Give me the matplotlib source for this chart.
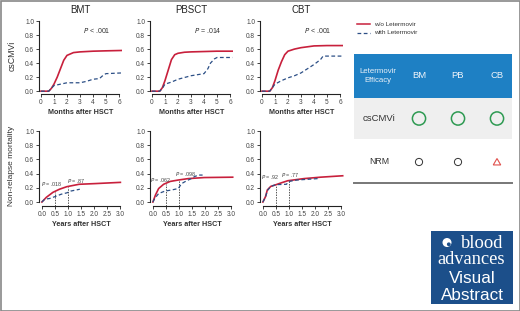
import matplotlib
matplotlib.use("Agg")
import numpy as np
import matplotlib.pyplot as plt
from matplotlib import font_manager
from matplotlib.patches import Rectangle, Circle, RegularPolygon

names = {f.name for f in font_manager.fontManager.ttflist}
SANS = "Liberation Sans" if "Liberation Sans" in names else "DejaVu Sans"
NARROW = "Liberation Sans Narrow" if "Liberation Sans Narrow" in names else SANS
SERIF = "Liberation Serif" if "Liberation Serif" in names else "DejaVu Serif"
plt.rcParams["font.family"] = [SANS, "DejaVu Sans"]

# ---------------- data ----------------
panels = ["BMT", "PBSCT", "CBT"]

# csCMVi cumulative incidence (months)
cmv_wo_x = {
    "BMT":   [0, 0.6, 0.8, 1.0, 1.25, 1.5, 1.75, 2.0, 2.5, 3.0, 4.0, 5.0, 6.2],
    "PBSCT": [0, 0.6, 0.8, 1.0, 1.25, 1.5, 1.75, 2.0, 2.5, 3.0, 4.0, 5.0, 6.2],
    "CBT":   [0, 0.6, 0.8, 1.0, 1.25, 1.5, 1.75, 2.0, 2.5, 3.0, 4.0, 5.0, 6.2],
}
cmv_wo_y = {
    "BMT":   [0, 0.0, 0.04, 0.10, 0.20, 0.32, 0.44, 0.51, 0.55, 0.56, 0.57, 0.575, 0.58],
    "PBSCT": [0, 0.0, 0.05, 0.15, 0.30, 0.45, 0.52, 0.54, 0.555, 0.56, 0.565, 0.57, 0.57],
    "CBT":   [0, 0.0, 0.05, 0.15, 0.30, 0.42, 0.52, 0.57, 0.60, 0.62, 0.645, 0.65, 0.65],
}
cmv_w_x = {
    "BMT":   [0, 0.6, 0.8, 1.0, 1.5, 2.0, 3.0, 3.5, 4.0, 4.5, 4.8, 5.0, 6.2],
    "PBSCT": [0, 0.6, 0.8, 1.0, 1.5, 2.0, 3.0, 4.0, 4.3, 4.5, 4.8, 5.0, 6.2],
    "CBT":   [0, 0.6, 0.8, 1.0, 1.5, 2.0, 2.5, 3.0, 3.5, 4.0, 4.5, 4.7, 6.2],
}
cmv_w_y = {
    "BMT":   [0, 0.0, 0.04, 0.08, 0.10, 0.12, 0.12, 0.14, 0.17, 0.18, 0.23, 0.25, 0.26],
    "PBSCT": [0, 0.0, 0.04, 0.10, 0.13, 0.17, 0.22, 0.25, 0.32, 0.40, 0.46, 0.48, 0.48],
    "CBT":   [0, 0.0, 0.05, 0.10, 0.15, 0.19, 0.22, 0.26, 0.32, 0.38, 0.45, 0.50, 0.50],
}
cmv_p = {"BMT": "< .001", "PBSCT": "= .014", "CBT": "< .001"}

# Non-relapse mortality (years)
nrm_wo_x = {
    "BMT":   [0, 0.17, 0.42, 0.67, 0.95, 1.42, 2.05, 3.0],
    "PBSCT": [0, 0.1, 0.22, 0.41, 0.66, 0.97, 1.35, 1.97, 3.05],
    "CBT":   [0, 0.1, 0.17, 0.3, 0.47, 0.7, 0.95, 1.57, 2.2, 3.05],
}
nrm_wo_y = {
    "BMT":   [0, 0.066, 0.136, 0.18, 0.216, 0.25, 0.26, 0.277],
    "PBSCT": [0, 0.10, 0.19, 0.25, 0.29, 0.31, 0.33, 0.345, 0.35],
    "CBT":   [0, 0.075, 0.17, 0.22, 0.24, 0.27, 0.30, 0.33, 0.35, 0.37],
}
nrm_w_x = {
    "BMT":   [0, 0.11, 0.3, 0.49, 0.74, 0.96, 1.11, 1.45],
    "PBSCT": [0, 0.07, 0.22, 0.47, 0.72, 0.97, 1.1, 1.29, 1.47, 1.6, 1.75, 1.9],
    "CBT":   [0, 0.1, 0.17, 0.3, 0.5, 0.9, 1.0, 1.3, 1.7, 2.1],
}
nrm_w_y = {
    "BMT":   [0, 0.04, 0.05, 0.075, 0.11, 0.13, 0.155, 0.18],
    "PBSCT": [0, 0.05, 0.12, 0.155, 0.17, 0.19, 0.26, 0.30, 0.33, 0.36, 0.38, 0.38],
    "CBT":   [0, 0.07, 0.16, 0.22, 0.245, 0.25, 0.29, 0.31, 0.32, 0.33],
}
nrm_mark_x = [0.5, 1.0]
nrm_mark_y = {"BMT": [0.14, 0.215], "PBSCT": [0.26, 0.31], "CBT": [0.24, 0.30]}
nrm_p = {"BMT": ["= .018", "= .87"], "PBSCT": ["= .062", "= .098"], "CBT": ["= .92", "= .77"]}
nrm_p_pos = {
    "BMT":   [(-0.02, 0.25), (0.95, 0.30)],
    "PBSCT": [(-0.10, 0.31), (0.85, 0.40)],
    "CBT":   [(-0.08, 0.35), (0.70, 0.385)],
}

yticks = [0.0, 0.2, 0.4, 0.6, 0.8, 1.0]
cmv_xticks = [0, 1, 2, 3, 4, 5, 6]
nrm_xticks = [0.0, 0.5, 1.0, 1.5, 2.0, 2.5, 3.0]

table_cols = ["BM", "PB", "CB"]
table_rows = ["csCMVi", "NRM"]

RED = "#c8203c"
BLUE = "#2c4f86"

W, H = 520, 311
fig = plt.figure(figsize=(W / 100, H / 100), dpi=100)


def px_axes(x0, y0, x1, y1):
    return fig.add_axes([x0 / W, 1 - y1 / H, (x1 - x0) / W, (y1 - y0) / H])


def style(ax, xticks, xlim, ylim, fmt):
    ax.set_xlim(*xlim)
    ax.set_ylim(*ylim)
    for s in ["top", "right"]:
        ax.spines[s].set_visible(False)
    ax.spines["left"].set_bounds(0, 1)
    ax.spines["bottom"].set_bounds(xticks[0], xticks[-1])
    for s in ["left", "bottom"]:
        ax.spines[s].set_linewidth(0.8)
        ax.spines[s].set_color("#222222")
    ax.set_yticks(yticks)
    ax.set_yticklabels([f"{v:.1f}" for v in yticks])
    ax.set_xticks(xticks)
    ax.set_xticklabels([fmt(v) for v in xticks])
    ax.tick_params(length=2, width=0.6, pad=1.5, labelsize=4.7, colors="#222222",
                   labelcolor="#444444")
    ax.patch.set_alpha(0)


lefts = [39, 150, 260]
for i, p in enumerate(panels):
    L = lefts[i]
    # top: csCMVi
    ax = px_axes(L, 19.6, L + 82.6, 94)
    ax.plot(cmv_wo_x[p], cmv_wo_y[p], color=RED, lw=1.2)
    ax.plot(cmv_w_x[p], cmv_w_y[p], color=BLUE, lw=0.9, ls=(0, (3, 2)))
    style(ax, cmv_xticks, (-0.15, 6.2), (-0.04, 1.02), lambda v: f"{v:d}")
    ax.set_xlabel("Months after HSCT", fontsize=5.2, family=NARROW, labelpad=2,
                  color="#333333", fontweight="bold")
    ax.set_title(p, fontsize=7, pad=4.5, color="#222222")
    ax.text(4.3, 0.86, "$P$ " + cmv_p[p], fontsize=5, ha="center", va="center",
            color="#333333")

    # bottom: NRM
    ax2 = px_axes(L, 130, L + 84, 206)
    style(ax2, nrm_xticks, (-0.11, 3.1), (-0.056, 1.015), lambda v: f"{v:.1f}")
    for xm, ym in zip(nrm_mark_x, nrm_mark_y[p]):
        ax2.plot([xm, xm], [-0.056, ym], color="#555555", lw=0.7, ls=(0, (1.5, 1.2)))
    ax2.plot(nrm_wo_x[p], nrm_wo_y[p], color=RED, lw=1.2)
    ax2.plot(nrm_w_x[p], nrm_w_y[p], color=BLUE, lw=0.9, ls=(0, (3, 2)))
    for (tx, ty), lab in zip(nrm_p_pos[p], nrm_p[p]):
        ax2.text(tx, ty, "$P$ " + lab, fontsize=3.9, ha="left", va="center",
                 color="#444444")
    ax2.set_xlabel("Years after HSCT", fontsize=5.2, family=NARROW, labelpad=2,
                   color="#333333", fontweight="bold")

fig.text(12 / W, 1 - 56 / H, "csCMVi", rotation=90, fontsize=6.3, ha="center",
         va="center", color="#333333")
fig.text(12 / W, 1 - 166 / H, "Non-relapse mortality", rotation=90, fontsize=6.0,
         ha="center", va="center", color="#333333")

# ---------------- overlay (legend, table, logo, frame) ----------------
ov = fig.add_axes([0, 0, 1, 1], zorder=-1)
ov.set_xlim(0, W)
ov.set_ylim(H, 0)
ov.axis("off")

ov.plot([357, 370], [24, 24], color=RED, lw=1.1)
ov.plot([357, 370], [33, 33], color=BLUE, lw=0.9, ls=(0, (3, 2)))
ov.text(374, 24, "w/o Letermovir", fontsize=4.6, va="center", color="#333333")
ov.text(374, 33, "with Letermovir", fontsize=4.6, va="center", color="#333333")

ov.add_patch(Rectangle((354, 54), 158, 44, color="#1e80c4", lw=0))
ov.add_patch(Rectangle((354, 98), 158, 41, color="#efefef", lw=0))
ov.plot([354, 512], [182.5, 182.5], color="#777777", lw=1.4)
ov.text(378, 76, "Letermovir\nEfficacy", fontsize=5.6, ha="center", va="center",
        color="#e8f0f8", linespacing=1.3)
col_x = [419, 458, 497]
for cx, c in zip(col_x, table_cols):
    ov.text(cx, 76, c, fontsize=6.8, ha="center", va="center", color="#f0f4fa")
ov.text(379, 118.5, table_rows[0], fontsize=6.8, ha="center", va="center", color="#333333")
ov.text(379, 162, table_rows[1], fontsize=6.3, ha="center", va="center", color="#333333")
for cx in col_x:
    ov.add_patch(Circle((cx, 118.5), 6.6, fill=False, ec="#2e9a52", lw=1.1))
for cx in col_x[:2]:
    ov.add_patch(Circle((cx, 162), 3.6, fill=False, ec="#333333", lw=0.7))
ov.add_patch(RegularPolygon((col_x[2], 162.8), 3, radius=4.3, orientation=np.pi,
                            fill=False, ec="#e0504c", lw=0.8))

# logo
ov.add_patch(Rectangle((431, 231), 82, 73, color="#1c4f8a", lw=0))
ov.add_patch(Circle((447, 242.5), 4.5, color="white", lw=0))
ov.add_patch(Circle((448.8, 244.3), 1.9, color="#1c4f8a", lw=0))
ov.text(482, 247.5, "blood", family=SERIF, fontsize=13.3, ha="center", va="baseline",
        color="white")
ov.text(471.5, 264.5, "advances", family=SERIF, fontsize=13.3, ha="center", va="baseline",
        color="white")
ov.text(472.5, 278.5, "Visual", fontsize=12.3, ha="center", va="center", color="white")
ov.text(472.5, 295, "Abstract", fontsize=12.3, ha="center", va="center", color="white")

ov.add_patch(Rectangle((0.5, 0.5), W - 1, H - 1, fill=False, ec="#888888", lw=1.2))

fig.savefig("out.png", dpi=100)
